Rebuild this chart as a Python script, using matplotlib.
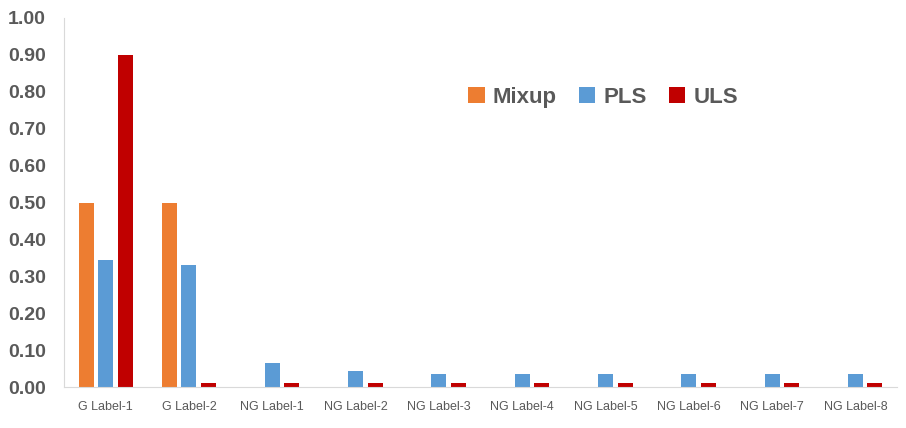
import numpy as np
import matplotlib.pyplot as plt

# 데이터
categories = ['G Label-1', 'G Label-2', 'NG Label-1', 'NG Label-2', 'NG Label-3',
              'NG Label-4', 'NG Label-5', 'NG Label-6', 'NG Label-7', 'NG Label-8']
mixup = [0.50, 0.50, 0, 0, 0, 0, 0, 0, 0, 0]
pls = [0.345, 0.33, 0.066, 0.044, 0.036, 0.034, 0.034, 0.034, 0.034, 0.034]
uls = [0.90, 0.01, 0.01, 0.01, 0.01, 0.01, 0.01, 0.01, 0.01, 0.01]
yticks = np.arange(0, 1.01, 0.1)

text_color = '#595959'
axis_color = '#d9d9d9'

fig = plt.figure(figsize=(9.06, 4.28), dpi=100)
ax = fig.add_axes([64 / 906, 1 - 387 / 428, (897 - 64) / 906, (387 - 18) / 428])

x = np.arange(len(categories))
w = 0.18
ax.bar(x - 0.235, mixup, w, color='#ed7d31', label='Mixup')
ax.bar(x, pls, w, color='#5b9bd5', label='PLS')
ax.bar(x + 0.235, uls, w, color='#c00000', label='ULS')

ax.set_xlim(-0.5, len(categories) - 0.5)
ax.set_ylim(0, 1.0)
ax.set_yticks(yticks)
ax.set_yticklabels([f'{v:.2f}' for v in yticks], fontsize=14, fontweight='bold',
                   color=text_color, family='Liberation Sans')
ax.set_xticks(x)
ax.set_xticklabels(categories, fontsize=9, color=text_color, family='Liberation Sans')
ax.tick_params(axis='both', length=0)
ax.tick_params(axis='y', pad=13)
ax.tick_params(axis='x', pad=10)

for s in ['top', 'right']:
    ax.spines[s].set_visible(False)
ax.spines['left'].set_color(axis_color)
ax.spines['bottom'].set_color(axis_color)

leg = ax.legend(loc='center', bbox_to_anchor=(0.647, 0.785), ncol=3, frameon=False,
                handlelength=0.75, handleheight=0.75, handletextpad=0.35, columnspacing=1.0,
                prop={'family': 'Liberation Sans', 'size': 16, 'weight': 'bold'})
for t in leg.get_texts():
    t.set_color(text_color)

fig.savefig('out.png', dpi=100)
